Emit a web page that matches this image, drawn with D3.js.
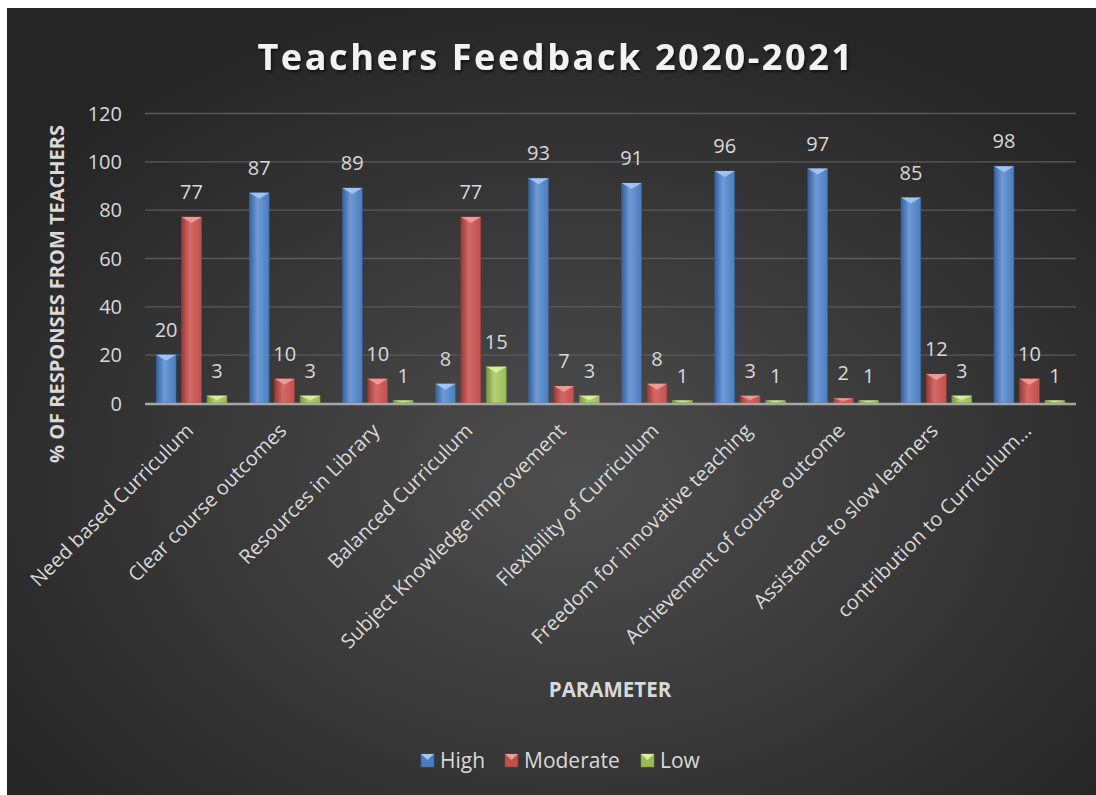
<!DOCTYPE html>
<html>
<head>
<meta charset="utf-8">
<script src="https://cdn.jsdelivr.net/npm/d3@7"></script>
<style>
  html, body { margin: 0; padding: 0; background: #ffffff; }
  svg { display: block; }
  text { font-family: "Open Sans", "Noto Sans", sans-serif; }
</style>
</head>
<body>
<svg id="chart" width="1096" height="795"></svg>
<script>
const categories = [
  "Need based Curriculum",
  "Clear course outcomes",
  "Resources in Library",
  "Balanced Curriculum",
  "Subject Knowledge improvement",
  "Flexibility of Curriculum",
  "Freedom for innovative teaching",
  "Achievement of course outcome",
  "Assistance to slow learners",
  "contribution to Curriculum\u2026"
];
const seriesNames = ["High", "Moderate", "Low"];
const highValues = [20, 87, 89, 8, 93, 91, 96, 97, 85, 98];
const moderateValues = [77, 10, 10, 77, 7, 8, 3, 2, 12, 10];
const lowValues = [3, 3, 1, 15, 3, 1, 1, 1, 3, 1];
const yTicks = [0, 20, 40, 60, 80, 100, 120];
const titleText = "Teachers Feedback 2020-2021";
const yTitle = "% OF RESPONSES FROM TEACHERS";
const xTitle = "PARAMETER";

const seriesValues = [highValues, moderateValues, lowValues];
const palette = {
  High:     { base: "#4a7dbd", light: "#6f9ad6", dark: "#36609a", top: "#a3c6f2" },
  Moderate: { base: "#c0504d", light: "#d46a67", dark: "#993a38", top: "#f09c9a" },
  Low:      { base: "#9bbb59", light: "#b5d277", dark: "#789440", top: "#d8f0a0" }
};

const svg = d3.select("#chart");
const defs = svg.append("defs");

const bg = defs.append("radialGradient").attr("id", "bgGrad")
  .attr("cx", "52%").attr("cy", "60%").attr("r", "62%");
bg.append("stop").attr("offset", "0%").attr("stop-color", "#4e4e4e");
bg.append("stop").attr("offset", "100%").attr("stop-color", "#262626");

svg.append("rect").attr("x", 7).attr("y", 8).attr("width", 1089).attr("height", 787)
  .attr("fill", "url(#bgGrad)");

seriesNames.forEach(s => {
  const g = defs.append("linearGradient").attr("id", "g_" + s)
    .attr("x1", "0%").attr("x2", "100%").attr("y1", "0%").attr("y2", "0%");
  g.append("stop").attr("offset", "0%").attr("stop-color", palette[s].dark);
  g.append("stop").attr("offset", "40%").attr("stop-color", palette[s].light);
  g.append("stop").attr("offset", "100%").attr("stop-color", palette[s].base);
});

const shadow = defs.append("filter").attr("id", "tshadow").attr("x", "-10%").attr("y", "-30%").attr("width", "120%").attr("height", "160%");
shadow.append("feDropShadow").attr("dx", 1.5).attr("dy", 2).attr("stdDeviation", 1.5).attr("flood-color", "#000").attr("flood-opacity", 0.6);

const margin = { left: 145, right: 1076, top: 113, bottom: 403 };

const x0 = d3.scaleBand().domain(categories).range([margin.left, margin.right]).paddingInner(0.24).paddingOuter(0.12);
const x1 = d3.scaleBand().domain(seriesNames).range([0, x0.bandwidth()]).paddingInner(0.22);
const y = d3.scaleLinear().domain([0, 120]).range([margin.bottom, margin.top]);

const grid = svg.append("g");
grid.selectAll("line").data(yTicks.filter(t => t > 0)).join("line")
  .attr("x1", margin.left).attr("x2", margin.right)
  .attr("y1", d => y(d) + 0.5).attr("y2", d => y(d) + 0.5)
  .attr("stroke", "#5a5a5a").attr("stroke-width", 1.3);

const yAxis = d3.axisLeft(y).tickValues(yTicks).tickSize(0).tickPadding(0);
const yg = svg.append("g").attr("transform", `translate(${122},0)`).call(yAxis);
yg.select(".domain").remove();
yg.selectAll("text").attr("fill", "#d9d9d9").attr("font-size", 20).attr("dy", "0.35em");

const groups = svg.append("g").selectAll("g").data(categories).join("g")
  .attr("transform", d => `translate(${x0(d)},0)`);

groups.each(function(cat, ci) {
  const g = d3.select(this);
  seriesNames.forEach((s, si) => {
    const v = seriesValues[si][ci];
    const bx = x1(s), bw = x1.bandwidth();
    const top = y(v), h = y(0) - y(v);
    g.append("rect").attr("x", bx).attr("y", top).attr("width", bw).attr("height", h)
      .attr("fill", "url(#g_" + s + ")")
      .attr("stroke", palette[s].dark).attr("stroke-width", 0.6);
    const th = Math.min(6, h * 0.6);
    g.append("path")
      .attr("d", `M${bx},${top} L${bx + bw},${top} L${bx + bw / 2},${top + th} Z`)
      .attr("fill", palette[s].top).attr("opacity", 0.95);
    g.append("text")
      .attr("x", bx + bw / 2).attr("y", top - 18)
      .attr("text-anchor", "middle").attr("fill", "#d9d9d9").attr("font-size", 20)
      .text(v);
  });
});

svg.append("line").attr("x1", margin.left).attr("x2", margin.right)
  .attr("y1", y(0) + 1).attr("y2", y(0) + 1)
  .attr("stroke", "#a6a6a6").attr("stroke-width", 2.5);

const xAxis = d3.axisBottom(x0).tickSize(0).tickPadding(0);
const xg = svg.append("g").attr("transform", `translate(0,${y(0)})`).call(xAxis);
xg.select(".domain").remove();
xg.selectAll("text")
  .attr("fill", "#d9d9d9").attr("font-size", 20)
  .attr("text-anchor", "end")
  .attr("dy", null).attr("y", 0)
  .attr("transform", "translate(3,29) rotate(-45)");

svg.append("text").attr("x", 556).attr("y", 70).attr("text-anchor", "middle")
  .attr("font-size", 36).attr("font-weight", "bold").attr("fill", "#f2f2f2")
  .attr("letter-spacing", 2.6).attr("filter", "url(#tshadow)")
  .text(titleText);

svg.append("text").attr("transform", "translate(64,294) rotate(-90)")
  .attr("text-anchor", "middle").attr("font-size", 20).attr("font-weight", "bold")
  .attr("fill", "#d9d9d9").text(yTitle);

svg.append("text").attr("x", 610).attr("y", 697).attr("text-anchor", "middle")
  .attr("font-size", 20.5).attr("font-weight", "bold").attr("fill", "#d9d9d9").text(xTitle);

const legendItems = [
  { name: "High", x: 421 },
  { name: "Moderate", x: 505 },
  { name: "Low", x: 641 }
];
const lg = svg.append("g");
legendItems.forEach(it => {
  const s = it.name;
  lg.append("rect").attr("x", it.x).attr("y", 754).attr("width", 13).attr("height", 13)
    .attr("fill", palette[s].base).attr("stroke", palette[s].dark).attr("stroke-width", 0.6);
  lg.append("path").attr("d", `M${it.x},754 L${it.x + 13},754 L${it.x + 6.5},760 Z`)
    .attr("fill", palette[s].top);
  lg.append("text").attr("x", it.x + 19).attr("y", 768).attr("font-size", 21)
    .attr("fill", "#d9d9d9").text(s);
});
</script>
</body>
</html>
